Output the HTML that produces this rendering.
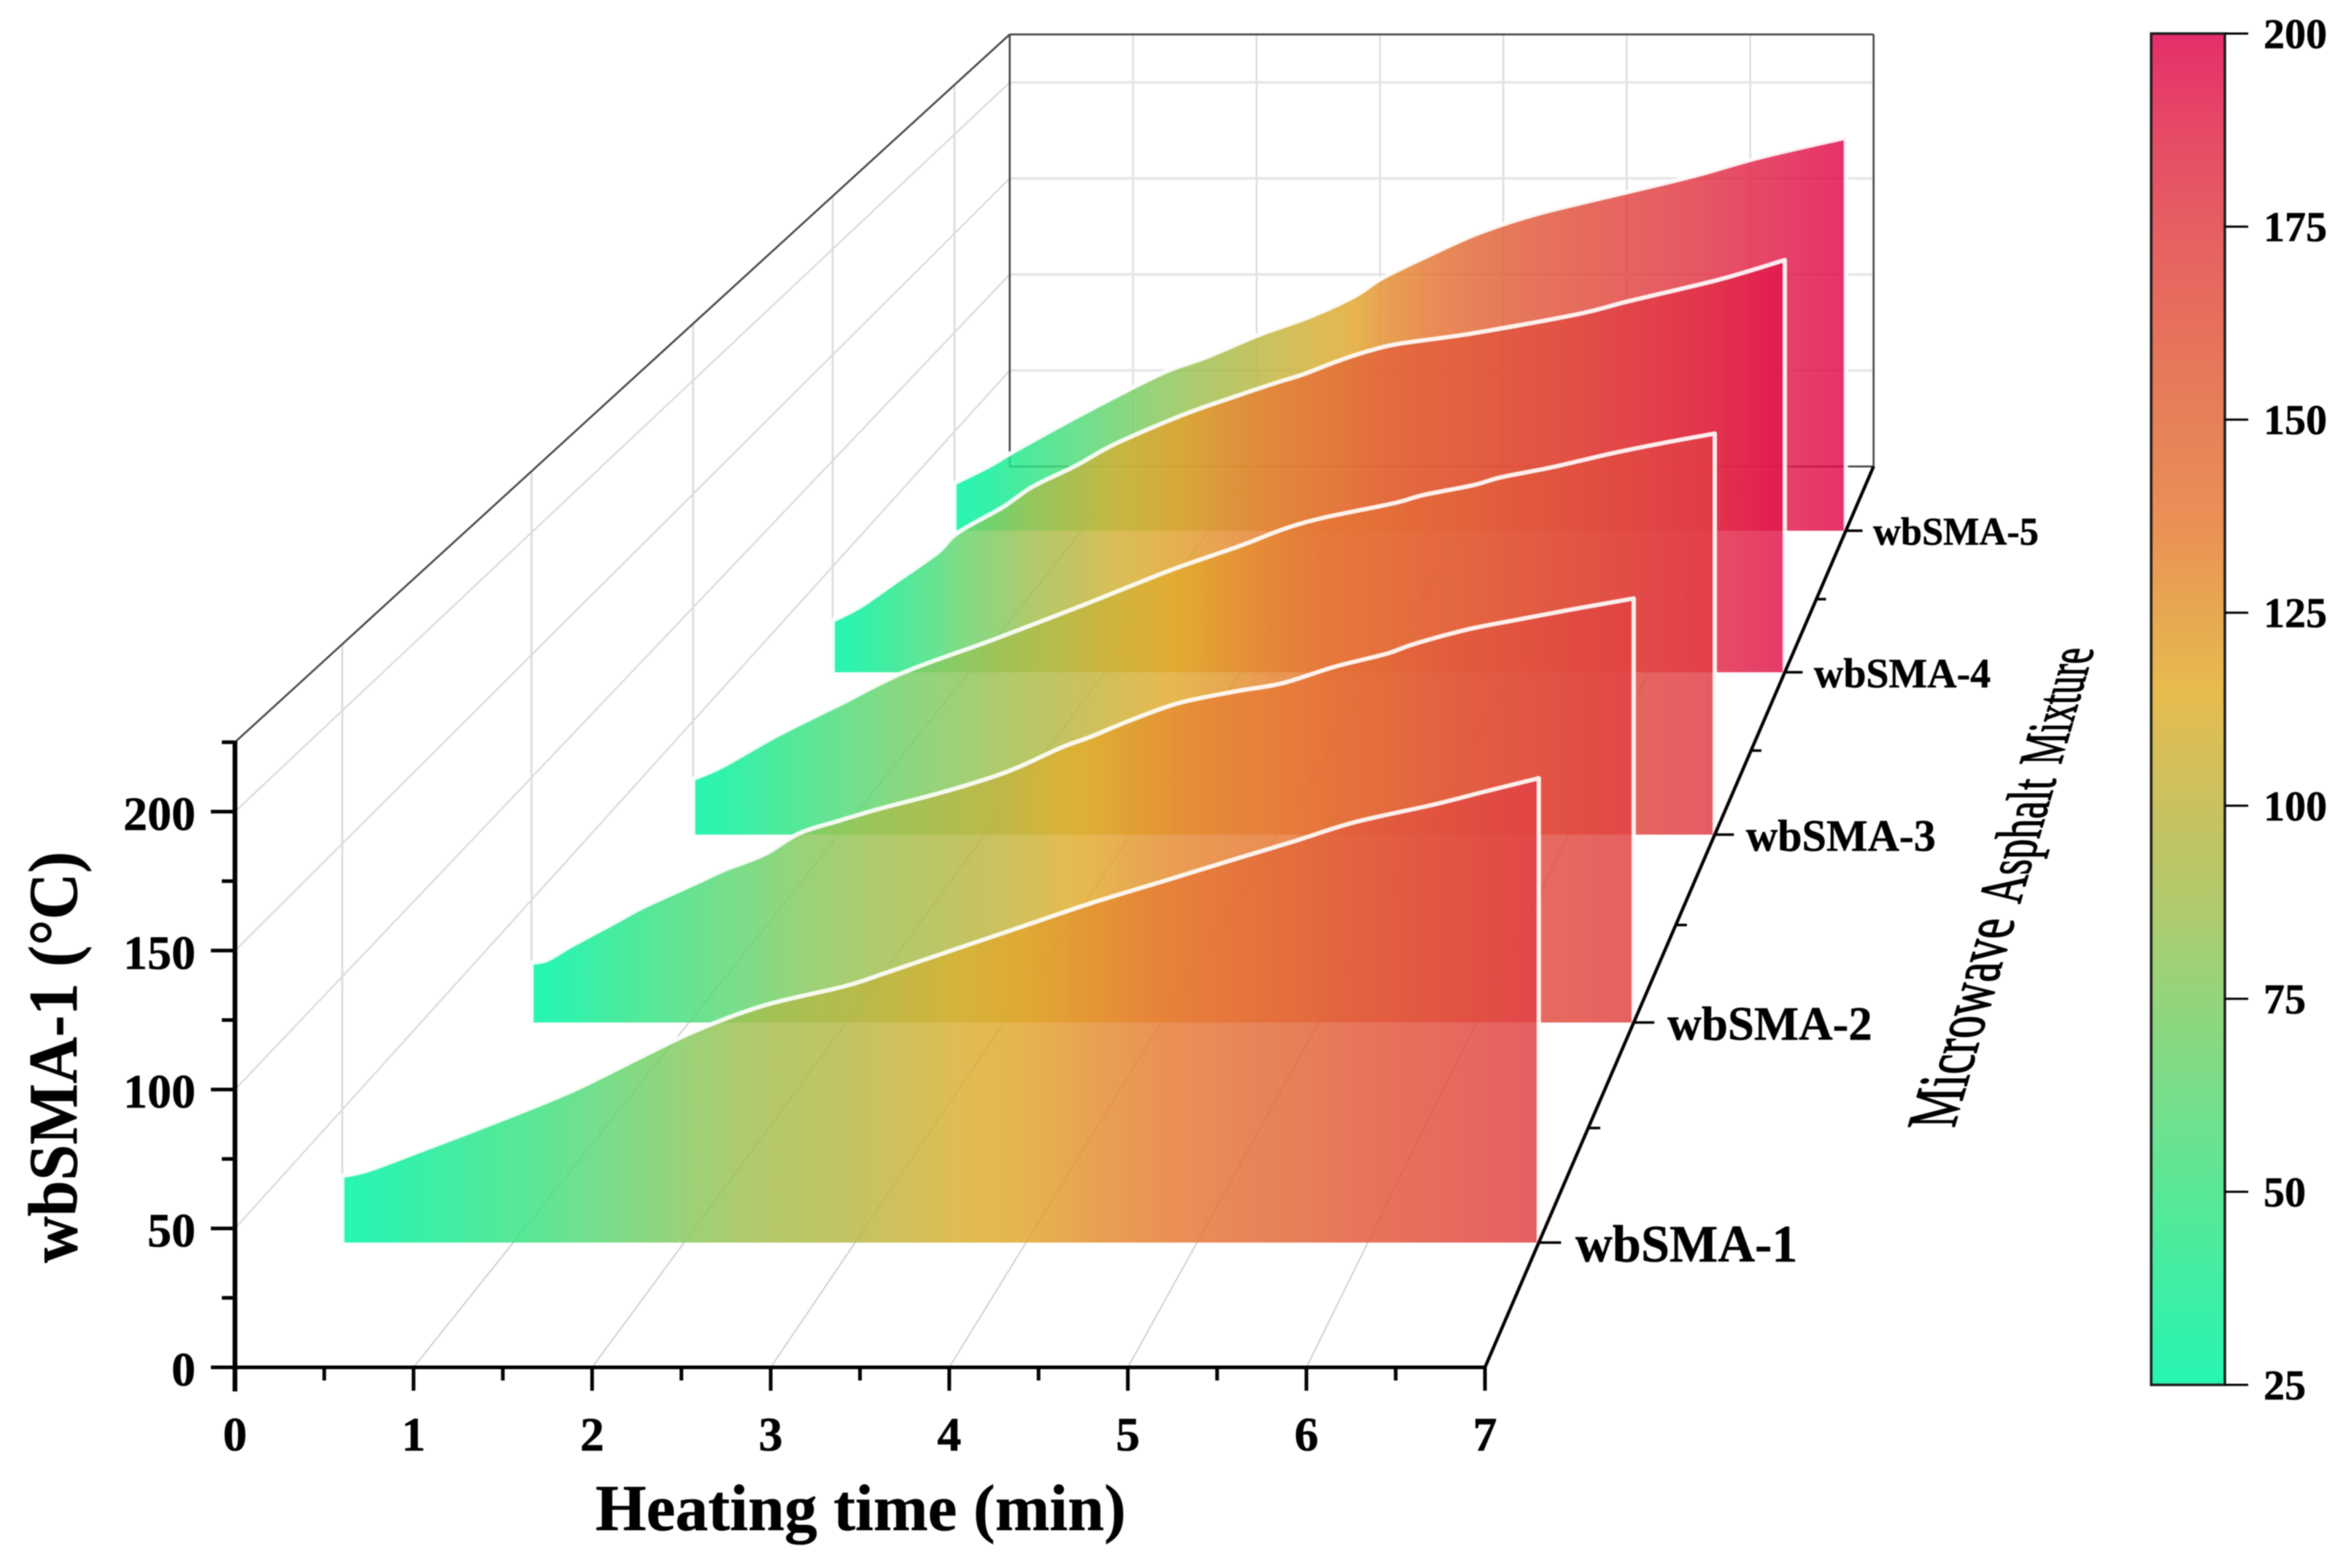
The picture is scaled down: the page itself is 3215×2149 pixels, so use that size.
<!DOCTYPE html>
<html lang="en">
<head>
<meta charset="utf-8">
<title>Microwave heating of wbSMA mixtures</title>
<style>
html,body{margin:0;padding:0;background:#fff;width:3215px;height:2149px;overflow:hidden}
svg{display:block;filter:blur(0.7px)}
text{font-family:"Liberation Serif","DejaVu Serif",serif;fill:#000;stroke:#000;stroke-width:.6px}
</style>
</head>
<body>
<svg id="chart" xmlns="http://www.w3.org/2000/svg" width="3215" height="2149" viewBox="0 0 3215 2149">
  <rect x="0" y="0" width="3215" height="2149" fill="#ffffff"/>
  <defs id="defs"></defs>
  <g id="grid"></g>
  <g id="frame"></g>
  <g id="walls"></g>
  <g id="axes"></g>
  <g id="labels"></g>
  <text transform="translate(105,1731) rotate(-90)" font-size="95" font-weight="700" textLength="564" lengthAdjust="spacingAndGlyphs">wbSMA-1 (°C)</text>
  <text x="816" y="2097" font-size="90" font-weight="700" textLength="727" lengthAdjust="spacingAndGlyphs">Heating time (min)</text>
  <g>
    <text font-size="100" style="stroke-width:1.6px" transform="matrix(0.1846,-0.631,0.97,0,2678,1546)">Microwave</text>
    <text font-size="100" style="stroke-width:1.8px" transform="matrix(0.161,-0.553,0.87,0,2768,1239)">Asphalt</text>
    <text font-size="100" style="stroke-width:1.8px" transform="matrix(0.143,-0.497,0.86,0,2824,1048)">Mixture</text>
  </g>
  <g id="colorbar"></g>
</svg>
<script>
// ---- data ----
const timeTicks = [0, 1, 2, 3, 4, 5, 6, 7];
const timeMinorTicks = [0.5, 1.5, 2.5, 3.5, 4.5, 5.5, 6.5];
const tempTicks = [0, 50, 100, 150, 200];
const tempMinorTicks = [25, 75, 125, 175, 225];
const depthTicks = [0.5, 1.5, 2.5, 3.5, 4.5];
const depthMinorTicks = [1, 2, 3, 4];
const seriesNames = ['wbSMA-1', 'wbSMA-2', 'wbSMA-3', 'wbSMA-4', 'wbSMA-5'];
const colorbarTicks = [25, 50, 75, 100, 125, 150, 175, 200];

const timeS1 = [0, .16, .46, .73, 1.1, 1.39, 1.76, 2.08, 2.47, 2.94, 3.17, 3.6, 3.99, 4.38, 4.85, 5.25, 5.56, 5.92, 6.38, 6.68, 7];
const tempS1 = [25, 27.4, 34.6, 41.2, 50.5, 58.4, 70.2, 80, 89.2, 96.4, 101.2, 110.6, 119.1, 127.6, 136.8, 144.7, 150.7, 158, 164.6, 169.5, 174.6];
const timeS2 = [0, .1, .26, .55, .71, 1.08, 1.22, 1.48, 1.7, 1.95, 2.22, 2.6, 2.95, 3.13, 3.37, 3.55, 3.79, 4.06, 4.24, 4.5, 4.77, 5.1, 5.43, 5.6, 5.95, 6.26, 6.59, 7];
const tempS2 = [24.4, 25.6, 31.6, 41.6, 47.2, 58, 62.2, 68.7, 77.2, 82.3, 87.4, 93.8, 100.7, 105.3, 112.4, 116.6, 123, 129.4, 132.3, 135.5, 138.5, 145.2, 150.5, 154.4, 160.5, 164.4, 168.4, 173.1];
const timeS3 = [0, .2, .58, 1, 1.45, 2.05, 2.67, 3.27, 3.75, 4.04, 4.31, 4.8, 5, 5.34, 5.54, 5.88, 6.31, 6.65, 7];
const tempS3 = [24.6, 30.1, 43.9, 57.3, 71.6, 85.7, 101, 116.4, 127.2, 134.4, 139.4, 145.9, 149.5, 153.8, 157.4, 161.7, 168.1, 172.5, 176.6];
const timeS4 = [0, .2, .46, .77, .92, 1.25, 1.47, 1.79, 2.07, 2.57, 2.98, 3.27, 3.46, 3.72, 3.95, 4.18, 4.7, 5.47, 5.85, 6.52, 7];
const tempS4 = [24.5, 31, 42.6, 56.6, 66, 78, 87.7, 97.7, 107.7, 121.5, 130.8, 137, 140.8, 147.2, 152, 155.4, 160.1, 169.1, 175.3, 185.6, 194.8];
const timeS5 = [0, .28, .52, 1.08, 1.64, 1.97, 2.4, 2.79, 3.14, 3.37, 3.76, 4.12, 4.58, 5.24, 5.8, 6.32, 7];
const tempS5 = [24, 32.9, 42, 61.6, 79.7, 87.4, 99, 108, 118.3, 127.9, 140, 150.3, 159.9, 170.2, 178.9, 188.3, 198.4];

const colorTemps = [25, 37, 50, 62, 75, 87, 100, 115, 125, 137, 150, 162, 175, 187, 200];
const colorReds = [38, 62, 89, 118, 147, 176, 201, 231, 231, 234, 231, 230, 230, 230, 230];
const colorGreens = [245, 238, 231, 222, 212, 202, 193, 187, 167, 143, 128, 112, 94, 74, 46];
const colorBlues = [178, 164, 150, 139, 123, 108, 95, 78, 80, 85, 88, 92, 98, 102, 106];

// ---- axis functions (perspective box) ----
const NS = 'http://www.w3.org/2000/svg';
const VX = 3759, VY = -2123, DEPTH_K = 0.0894;
const FILL_ALPHA = 0.84;
function depthScale(z) { return 1 / (1 + DEPTH_K * z); }
function frontX(t) { return 322 + 244.72 * t; }
function frontY(T) { return 1874 - 3.808 * T; }
function px(t, z) { return VX + (frontX(t) - VX) * depthScale(z); }
function py(T, z) { return VY + (frontY(T) - VY) * depthScale(z); }
function barY(T) { return 1898 - (T - 25) * (1852 / 175); }

function colorAt(T) {
  let i = 0;
  while (i < colorTemps.length - 2 && T > colorTemps[i + 1]) i++;
  const f = Math.max(0, Math.min(1, (T - colorTemps[i]) / (colorTemps[i + 1] - colorTemps[i])));
  return [colorReds, colorGreens, colorBlues].map(function (c) { return c[i] + (c[i + 1] - c[i]) * f; });
}
function css(c) { return 'rgb(' + c.map(function (v) { return Math.round(Math.max(0, Math.min(255, v))); }).join(',') + ')'; }
function pureColor(T) {
  return colorAt(T).map(function (v) { return (v - 255 * (1 - FILL_ALPHA)) / FILL_ALPHA; });
}
function mk(tag, attrs, parent) {
  const e = document.createElementNS(NS, tag);
  for (const k in attrs) e.setAttribute(k, attrs[k]);
  parent.appendChild(e);
  return e;
}
function line(x1, y1, x2, y2, stroke, w, parent) {
  return mk('line', { x1: x1, y1: y1, x2: x2, y2: y2, stroke: stroke, 'stroke-width': w }, parent);
}
// smooth path through the points of one series (Catmull-Rom segments)
function wallPath(ts, Ts, z) {
  const p = ts.map(function (t, k) { return [px(t, z), py(Ts[k], z)]; });
  let d = 'M' + px(0, z) + ',' + py(0, z) + ' L' + p[0][0] + ',' + p[0][1];
  for (let k = 0; k < p.length - 1; k++) {
    const a = p[Math.max(0, k - 1)], b = p[k], c = p[k + 1], e = p[Math.min(p.length - 1, k + 2)];
    d += ' C' + (b[0] + (c[0] - a[0]) / 6) + ',' + (b[1] + (c[1] - a[1]) / 6) + ' ' + (c[0] - (e[0] - b[0]) / 6) + ',' + (c[1] - (e[1] - b[1]) / 6) + ' ' + c[0] + ',' + c[1];
  }
  d += ' L' + px(7, z) + ',' + py(0, z);
  return d;
}

const gridG = document.getElementById('grid');
const frameG = document.getElementById('frame');
const wallsG = document.getElementById('walls');
const axesG = document.getElementById('axes');
const labelsG = document.getElementById('labels');
const defsEl = document.getElementById('defs');
const barG = document.getElementById('colorbar');

// ---- grid ----
timeTicks.slice(1, -1).forEach(function (t) {
  const a = line(px(t, 0), py(0, 0), px(t, 5), py(0, 5), '#d0d0d0', 2, gridG);
  
  
  const b = line(px(t, 5), py(0, 5), px(t, 5), py(225, 5), '#dcdcdc', 2.5, gridG);
  
  
});
tempTicks.slice(1).forEach(function (T) {
  const a = line(px(0, 0), py(T, 0), px(0, 5), py(T, 5), '#d8d8d8', 2.2, gridG);
  
  
  const b = line(px(0, 5), py(T, 5), px(7, 5), py(T, 5), '#e4e4e4', 3.2, gridG);
  
  
});
depthTicks.forEach(function (z) {
  const a = line(px(0, z), py(0, z), px(0, z), py(225, z), '#dcdcdc', 2.8, gridG);
  
  
});

// ---- thin dark box frame ----
[[0, 0, 0, 0, 5, 0], [0, 225, 0, 0, 225, 5], [0, 225, 5, 7, 225, 5], [7, 225, 5, 7, 0, 5], [0, 225, 5, 0, 0, 5], [0, 0, 5, 7, 0, 5]].forEach(function (s) {
  const a = line(px(s[0], s[2]), py(s[1], s[2]), px(s[3], s[5]), py(s[4], s[5]), '#444444', 2.6, frameG);
  
  
});

// ---- series walls, back to front ----
const wallTimes = [timeS1, timeS2, timeS3, timeS4, timeS5];
const wallTemps = [tempS1, tempS2, tempS3, tempS4, tempS5];
for (let i = 4; i >= 0; i--) {
  const z = depthTicks[i];
  const ts = wallTimes[i], Ts = wallTemps[i];
  const grad = mk('linearGradient', { id: 'wall-gradient-' + (i + 1), gradientUnits: 'userSpaceOnUse', x1: px(0, z), y1: 0, x2: px(7, z), y2: 0 }, defsEl);
  ts.forEach(function (t, k) {
    mk('stop', { offset: t / 7, 'stop-color': css(pureColor(Ts[k])) }, grad);
  });
  const d = wallPath(ts, Ts, z);
  const fill = mk('path', { d: d + ' Z', fill: 'url(#wall-gradient-' + (i + 1) + ')', 'fill-opacity': FILL_ALPHA, stroke: 'none' }, wallsG);
  
  
  const edge = mk('path', { d: d, fill: 'none', stroke: '#ffffff', 'stroke-opacity': 0.9, 'stroke-width': 6, 'stroke-linejoin': 'round' }, wallsG);
  
  
}

// ---- axes ----
const xAxisLine = line(px(0, 0) - 33, py(0, 0), px(7, 0), py(0, 0), '#000', 5, axesG);


const yAxisLine = line(px(0, 0), 1907, px(0, 0), py(225, 0) - 2, '#000', 6.5, axesG);


const zAxisLine = line(px(7, 0), py(0, 0), px(7, 5), py(0, 5), '#000', 4.5, axesG);



timeTicks.forEach(function (t) {
  const x = px(t, 0);
  const tk = line(x, py(0, 0), x, py(0, 0) + 32, '#000', 5, axesG);
  
  
  const lb = mk('text', { x: x, y: 1988, 'font-size': 66, 'font-weight': 700, 'text-anchor': 'middle' }, labelsG);
  lb.textContent = String(t);
  
  
});
timeMinorTicks.forEach(function (t) {
  const tk = line(px(t, 0), py(0, 0), px(t, 0), py(0, 0) + 18, '#000', 5, axesG);
  
  
});
tempTicks.forEach(function (T) {
  const y = py(T, 0);
  const tk = line(289, y, px(0, 0), y, '#000', 5, axesG);
  
  
  const lb = mk('text', { x: 268, y: y + 25, 'font-size': 66, 'font-weight': 700, 'text-anchor': 'end' }, labelsG);
  lb.textContent = String(T);
  
  
});
tempMinorTicks.forEach(function (T) {
  const y = py(T, 0);
  const tk = line(304, y, px(0, 0), y, '#000', 5, axesG);
  
  
});
depthTicks.forEach(function (z, i) {
  const s = depthScale(z);
  const x = px(7, z), y = py(0, z);
  const tk = line(x, y, x + 32 * s, y, '#000', 3.5, axesG);
  
  
  const lb = mk('text', { x: x + 52.5 * s, y: y + 27 * s, 'font-size': 75 * s, 'font-weight': 700, textLength: 318 * s, lengthAdjust: 'spacingAndGlyphs' }, labelsG);
  lb.textContent = seriesNames[i];
  
  
});
depthMinorTicks.forEach(function (z) {
  const s = depthScale(z);
  const tk = line(px(7, z), py(0, z), px(7, z) + 18 * s, py(0, z), '#000', 3.5, axesG);
  
  
});

// ---- colorbar ----
const barGrad = mk('linearGradient', { id: 'colorbar-gradient', gradientUnits: 'userSpaceOnUse', x1: 0, y1: barY(25), x2: 0, y2: barY(200) }, defsEl);
colorTemps.forEach(function (T) {
  mk('stop', { offset: (T - 25) / 175, 'stop-color': css(colorAt(T)) }, barGrad);
});
const barRect = mk('rect', { x: 2948, y: barY(200), width: 101, height: barY(25) - barY(200), fill: 'url(#colorbar-gradient)', stroke: '#1c1c1c', 'stroke-width': 3.5 }, barG);


colorbarTicks.forEach(function (T) {
  const y = barY(T);
  const tk = line(3049, y, 3081, y, '#000', 3, barG);
  
  
  const lb = mk('text', { x: 3102, y: y + 20, 'font-size': 58, 'font-weight': 700 }, barG);
  lb.textContent = String(T);
  
  
});
</script>
</body>
</html>
